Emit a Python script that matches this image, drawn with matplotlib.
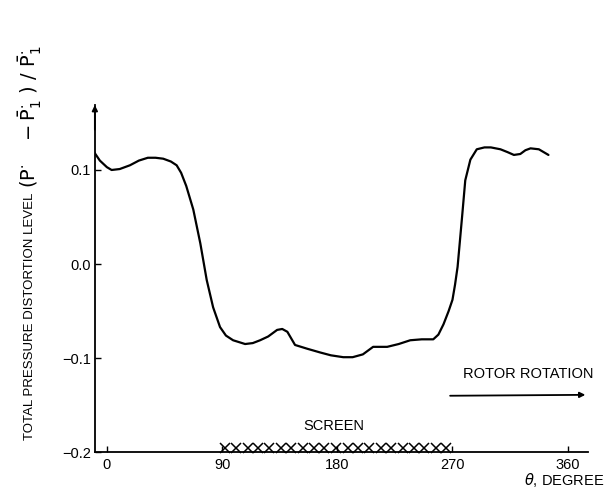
import matplotlib
matplotlib.use("Agg")
import matplotlib.pyplot as plt

plt.rcParams['font.family'] = ['Liberation Sans', 'DejaVu Sans']

# 曲线数据：角度(度) 与 总压畸变水平
theta = [-10, -5.5, 0, 3.7, 10, 18, 25, 32, 38, 44, 50, 54.5, 58, 62, 67.5, 73,
         78, 83, 88.4, 93, 98.6, 108, 114, 119.7, 126, 133, 137, 141, 144, 147,
         156.5, 166.7, 175, 184.7, 192, 200, 208, 219, 228, 237, 246, 255, 259,
         263, 267, 270, 272, 274, 277.5, 280, 284, 289, 295, 300, 307.5, 313,
         318, 323, 327, 331, 337.5, 345]
level = [0.119, 0.110, 0.103, 0.100, 0.101, 0.105, 0.110, 0.113, 0.113, 0.112,
         0.109, 0.105, 0.097, 0.083, 0.058, 0.022, -0.017, -0.046, -0.067,
         -0.076, -0.081, -0.085, -0.084, -0.081, -0.077, -0.070, -0.069,
         -0.072, -0.079, -0.086, -0.090, -0.094, -0.097, -0.099, -0.099,
         -0.096, -0.088, -0.088, -0.085, -0.081, -0.080, -0.080, -0.075,
         -0.064, -0.050, -0.038, -0.022, -0.003, 0.050, 0.089, 0.111, 0.122,
         0.124, 0.124, 0.122, 0.119, 0.116, 0.117, 0.121, 0.123, 0.122, 0.116]

# 屏网位置(叉号)
screen_x = [92, 101, 110, 118, 127, 136, 144, 153, 162, 170, 179, 188, 196,
            205, 214, 222, 231, 240, 248, 257, 265]

xticks = [0, 90, 180, 270, 360]
yticks = [-0.2, -0.1, 0.0, 0.1]
yticklabels = ['\u22120.2', '\u22120.1', '0.0', '0.1']

fig = plt.figure(figsize=(6.12, 4.91), dpi=100)
ax = fig.add_axes([0.155, 0.079, 0.806, 0.707])

ax.plot(theta, level, color='black', lw=1.6, solid_joinstyle='round',
        solid_capstyle='round')
ax.plot(screen_x, [-0.195] * len(screen_x), linestyle='none', marker='x',
        color='black', markersize=7.5, mew=1.1, clip_on=False)

ax.set_xlim(-9.4, 376)
ax.set_ylim(-0.2, 0.169)

ax.spines['top'].set_visible(False)
ax.spines['right'].set_visible(False)
ax.spines['left'].set_linewidth(1.3)
ax.spines['bottom'].set_linewidth(1.3)

ax.set_xticks(xticks)
ax.set_xticklabels([str(t) for t in xticks])
ax.set_yticks(yticks)
ax.set_yticklabels(yticklabels)
ax.tick_params(direction='in', length=4, width=1, labelsize=10.5, pad=3)
ax.tick_params(axis='x', pad=4)

# 纵轴顶端箭头
ax.annotate('', xy=(-9.4, 0.172), xytext=(-9.4, 0.14),
            arrowprops=dict(arrowstyle='-|>', color='black', lw=1.3,
                            mutation_scale=8), annotation_clip=False)

ax.text(177, -0.172, 'SCREEN', ha='center', va='center', fontsize=10.5)
ax.text(329, -0.117, 'ROTOR ROTATION', ha='center', va='center', fontsize=10.5)
ax.annotate('', xy=(376, -0.139), xytext=(266, -0.140),
            arrowprops=dict(arrowstyle='-|>', color='black', lw=1.3,
                            mutation_scale=8), annotation_clip=False)

fig.text(0.921, 0.022, r'$\theta$, DEGREE', ha='center', va='center',
         fontsize=10.5)
fig.text(0.049, 1 - 440 / 491, 'TOTAL PRESSURE DISTORTION LEVEL',
         rotation=90, ha='center', va='bottom', fontsize=9.5)
fig.text(0.049, 1 - 188 / 491,
         r'$(\mathrm{P}^{\cdot}\quad -\bar{\mathrm{P}}^{\cdot}_{1}\ )\ /\ \bar{\mathrm{P}}^{\cdot}_{1}$',
         rotation=90, ha='center', va='bottom', fontsize=14)

fig.savefig('out.png', dpi=100)
